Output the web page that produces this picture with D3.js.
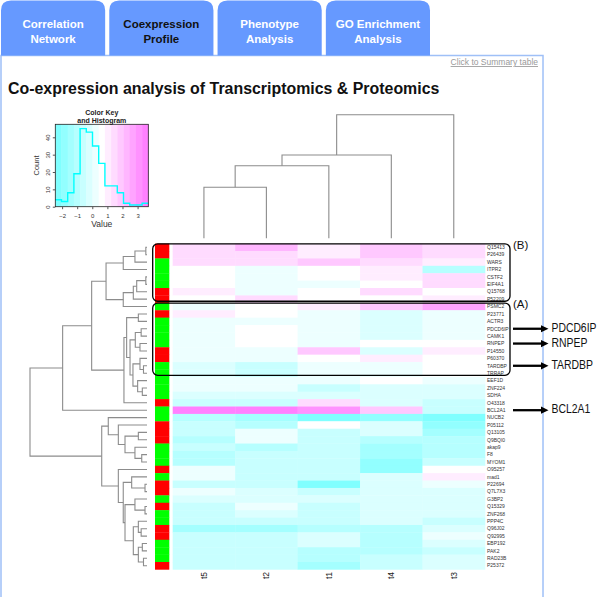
<!DOCTYPE html>
<html><head><meta charset="utf-8">
<script src="https://cdn.jsdelivr.net/npm/d3@7"></script>
<style>body{margin:0;background:#fff;} svg{display:block;font-family:"Liberation Sans",Arial,sans-serif;}</style>
</head><body>
<svg id="c" width="600" height="597"></svg>
<script>
// ---------------- data ----------------
const tabs = [["Correlation","Network"],["Coexpression","Profile"],["Phenotype","Analysis"],["GO Enrichment","Analysis"]];
const activeTab = 1;
const title = "Co-expression analysis of Transcriptomics & Proteomics";
const linkText = "Click to Summary table";
const columns = ["t5","t2","t1","t4","t3"];
const genes = ["Q15413","P26439","WARS","ITPR2","CSTF2","EIF4A1","Q15768","P52209","PSMC2","P23771",
  "ACTR3","PDCD6IP","CAMK1","RNPEP","P14550","P60370","TARDBP","TRRAP","EEF1D","ZNF224",
  "SDHA","O43318","BCL2A1","NUCB2","P05112","Q13105","Q9BQI0","akap9","F8","MYOM1",
  "O95257","mad1","P22694","Q7L7X3","G3BP2","Q15329","ZNF268","PPP4C","Q96J02","Q92995",
  "EBP192","PAK2","RAD23B","P25372"];
// side colour class: R = red, G = green
const sideClass = ["R","R","G","G","G","G","R","R","G","R",
  "G","G","G","G","R","R","G","G","G","G",
  "G","R","G","G","R","R","R","G","G","G",
  "R","G","R","R","G","R","G","G","R","R",
  "G","G","G","R"];
const valT5 = [1.5,1.5,1.5,0.6,0.6,0.6,1.0,0.6,0.2,1.0, 0.2,0.2,0.2,0.2,0.2,0.2,-0.2,-0.2,0.2,0.2, -0.2,-0.6,3.5,-1.0,-0.6,-0.6,-1.0,-0.6,-1.0,-1.0, 0.2,0.2,-0.6,0.2,-0.2,-0.6,-0.6,-0.6,-1.4,-0.6, -0.6,-0.6,-0.6,-0.6];
const valT2 = [2.3,1.5,1.5,0.2,0.2,0.2,0.2,1.5,0.6,0.6, 0.2,0.6,0.6,0.6,0.2,0.2,-0.6,-0.6,0.2,0.2, -0.2,-0.6,3.5,-1.4,-1.0,0.2,0.2,-1.0,-0.6,-0.6, -0.6,-0.6,-0.6,-0.2,-0.2,0.2,-0.2,-0.6,-1.4,-0.6, -0.6,-0.6,-0.6,-0.6];
const valT1 = [1.0,1.0,1.9,0.6,0.6,0.2,0.6,0.6,1.0,0.2, 0.2,0.2,0.2,0.2,1.9,0.6,0.2,0.2,0.2,-0.6, -0.2,1.5,3.1,-2.2,0.6,-0.6,-0.6,-0.6,-0.6,-0.6, -0.6,-0.6,-2.2,-0.6,-0.2,-0.6,-0.6,-0.6,-1.0,-0.2, -0.2,-1.0,-1.0,-1.4];
const valT4 = [1.9,1.9,1.5,1.0,1.0,0.6,1.5,0.6,1.9,-0.2, -0.2,-0.2,-0.2,0.6,-0.2,1.0,0.2,0.2,0.6,-0.2, -0.2,-0.2,1.9,-1.8,-0.2,-0.2,-1.0,-1.4,-1.4,-1.8, -1.8,-0.2,-0.2,-0.2,-0.2,-0.2,-0.2,-0.2,-1.0,-1.0, -1.0,-1.0,-0.6,-0.6];
const valT3 = [1.5,1.5,1.0,-1.0,1.5,1.5,0.6,1.0,2.7,0.2, 0.2,0.2,0.2,0.6,1.0,0.6,0.6,0.6,0.2,-0.2, -0.2,-0.6,-0.6,-2.2,-1.8,-1.4,-1.0,-1.0,-1.0,-0.6, 0.6,1.0,0.2,-0.2,-0.2,-0.2,-0.2,-0.6,-0.2,0.2, -0.2,-0.6,-0.2,-0.2];
const valueRange = [-2.45, 3.71];
const histCounts = [4,3,8,19,45,43,35,25,12,12,8,2,1,1,2];
const keyTicks = [-2,-1,0,1,2,3];
const countTicks = [0,10,20,30,40];
// column dendrogram: [height, left, right]
const colTree = [10, [6.74, [5.87, [4.13, "t5", "t2"], "t1"], "t4"], "t3"];
// row dendrogram: [height, left, right], leaves are row indices
const rowTree = [10,
  [7.21,
    [4.73,
      [3.50,
        [2.03, [1.03, [0.1, 0, 1], 2], 3],
        [2.03, [1.17, [0.88, [0.1, 4, 5], 6], 7], 8]],
      [1.97,
        [1.74,
          [0.74, 9, 10],
          [1.45, [1.0, [0.5, 11, 12], [0.6, 13, 14]],
                 [1.2, [0.6, 15, [0.3, 16, 17]], [0.8, 18, [0.4, 19, 20]]]]],
        21]],
    22],
  [3.87,
    [3.31, 23, [2.45, 24, [1.88, [0.74, 25, 26], [1.03, 27, [0.45, 28, 29]]]]],
    [2.45, 30,
      [2.03, [1.31, 31, [0.17, 32, 33]],
             [1.88, [1.03, 34, [0.17, 35, 36]],
                    [1.17, [0.74, 37, [0.5, 38, 39]], [0.74, [0.4, 40, 41], [0.3, 42, 43]]]]]]]];
const boxes = [{label:"(B)", from:0, to:7}, {label:"(A)", from:8, to:17}];
const callouts = ["PDCD6IP","RNPEP","TARDBP","BCL2A1"];

// ---------------- drawing ----------------
const svg = d3.select("#c");
const tabBlue = "#6699ff", borderBlue = "#9fc0f7";

// panel
svg.append("rect").attr("x",1).attr("y",55.5).attr("width",542).attr("height",560)
  .attr("fill","#fff").attr("stroke",borderBlue).attr("stroke-width",1.5);
// tabs
const tabX = d3.scaleBand().domain(d3.range(tabs.length)).range([1,430]).paddingInner(0.038);
tabs.forEach((t,i)=>{
  const x0 = tabX(i), w = tabX.bandwidth(), r = 10, y0 = 0.5, y1 = 55.5;
  svg.append("path").attr("d",`M${x0},${y1}V${y0+r}Q${x0},${y0} ${x0+r},${y0}H${x0+w-r}Q${x0+w},${y0} ${x0+w},${y0+r}V${y1}Z`)
    .attr("fill",tabBlue);
  const tx = svg.append("text").attr("x",x0+w/2).attr("text-anchor","middle")
    .attr("font-size",11.5).attr("font-weight","bold").attr("fill", i===activeTab?"#111":"#fff");
  t.forEach((s,j)=>tx.append("tspan").attr("x",x0+w/2).attr("y",28+j*14.5).text(s));
});
// link
svg.append("text").attr("x",538).attr("y",65).attr("text-anchor","end").attr("font-size",8.5)
  .attr("fill","#999").attr("text-decoration","underline").text(linkText);
// title
const tt = svg.append("text").attr("x",8).attr("y",94).attr("font-size",17).attr("font-weight","bold").attr("fill","#111").text(title);
const tw = tt.node().getComputedTextLength();
tt.attr("font-size", 17*432/tw);

// colour palette (R cm.colors)
function cmColors(n){
  const even = n%2===0, k = Math.floor(n/2), l1 = k+1-(even?1:0), l2 = n-k+(even?1:0);
  const out=[];
  const s1 = d3.range(l1).map(i=> 0.5 + (( (even?0.5/k:0) - 0.5) * (l1>1? i/(l1-1):0)));
  s1.forEach(s=>out.push(d3.rgb(255*(1-s),255,255).formatHex()));
  const s2 = d3.range(l2).map(i=> 0.5*(l2>1? i/(l2-1):0)).slice(1);
  s2.forEach(s=>out.push(d3.rgb(255,255*(1-s),255).formatHex()));
  return out;
}
const palette = cmColors(histCounts.length);
const color = d3.scaleQuantize().domain(valueRange).range(palette);

// heatmap
const xCol = d3.scaleBand().domain(columns).range([172.7,485]);
const yRow = d3.scaleBand().domain(d3.range(genes.length)).range([243.6,569.4]);
const colVals = {t5:valT5,t2:valT2,t1:valT1,t4:valT4,t3:valT3};
const cells = [];
columns.forEach(c=>colVals[c].forEach((v,i)=>cells.push({c,i,v})));
svg.append("g").selectAll("rect").data(cells).join("rect")
  .attr("x",d=>xCol(d.c)).attr("y",d=>yRow(d.i)).attr("width",xCol.bandwidth()+0.3).attr("height",yRow.bandwidth()+0.3)
  .attr("fill",d=>color(d.v));
// side colours
svg.append("g").selectAll("rect").data(sideClass).join("rect")
  .attr("x",155).attr("y",(d,i)=>yRow(i)).attr("width",14.3).attr("height",yRow.bandwidth()+0.3)
  .attr("fill",d=>d==="R"?"#ff0000":"#00ff00");
// row labels
svg.append("g").selectAll("text").data(genes).join("text")
  .attr("x",487).attr("y",(d,i)=>yRow(i)+yRow.bandwidth()/2).attr("dy","0.35em")
  .attr("font-size",5).attr("fill","#333").text(d=>d);
// column labels
svg.append("g").selectAll("text").data(columns).join("text")
  .attr("transform",d=>`translate(${xCol(d)+xCol.bandwidth()/2+3},572) rotate(-90)`)
  .attr("text-anchor","end").attr("font-size",8.5).attr("fill","#222").text(d=>d);

// column dendrogram
const colH = d3.scaleLinear().domain([0,10]).range([238.3,114.7]);
const dg = svg.append("g").attr("stroke","#8c8c8c").attr("stroke-width",1.1).attr("fill","none");
function drawCol(node){
  if(!Array.isArray(node)) return {x:xCol(node)+xCol.bandwidth()/2, h:0};
  const a = drawCol(node[1]), b = drawCol(node[2]), y = colH(node[0]);
  dg.append("path").attr("d",`M${a.x},${colH(a.h)}V${y}H${b.x}V${colH(b.h)}`);
  return {x:(a.x+b.x)/2, h:node[0]};
}
drawCol(colTree);
// row dendrogram
const rowH = d3.scaleLinear().domain([0,10]).range([147,30]);
function drawRow(node){
  if(!Array.isArray(node)) return {y:yRow(node)+yRow.bandwidth()/2, h:0};
  const a = drawRow(node[1]), b = drawRow(node[2]), x = rowH(node[0]);
  dg.append("path").attr("d",`M${rowH(a.h)},${a.y}H${x}V${b.y}H${rowH(b.h)}`);
  return {y:(a.y+b.y)/2, h:node[0]};
}
drawRow(rowTree);

// boxes
boxes.forEach(b=>{
  const y0 = yRow(b.from)+0.2, y1 = yRow(b.to)+yRow.bandwidth()-1.6;
  svg.append("rect").attr("x",152.7).attr("y",y0).attr("width",510-152.7).attr("height",y1-y0)
    .attr("rx",5).attr("fill","none").attr("stroke","#000").attr("stroke-width",1.3);
  svg.append("text").attr("x",513).attr("y",y0+1).attr("dy","0.35em").attr("font-size",11.5).attr("fill","#111").text(b.label);
});
// callouts
callouts.forEach(g=>{
  const i = genes.indexOf(g), y = yRow(i)+yRow.bandwidth()/2;
  svg.append("line").attr("x1",513).attr("x2",542).attr("y1",y).attr("y2",y).attr("stroke","#000").attr("stroke-width",2.3);
  svg.append("path").attr("d",`M541,${y-3.6}L548.5,${y}L541,${y+3.6}Z`).attr("fill","#000");
  const t = svg.append("text").attr("x",0).attr("y",0).attr("dy","0.35em").attr("font-size",12).attr("fill","#111").text(g);
  const w = t.node().getComputedTextLength();
  const sx = Math.min(1, 45/ (g==="PDCD6IP"? w : 45/0.87));
  t.attr("transform",`translate(551.5,${y-1}) scale(${g==="PDCD6IP"?sx:0.87},1)`);
});

// colour key
const kx = d3.scaleLinear().domain(valueRange).range([55.3,148.3]);
const ky = d3.scaleLinear().domain([0,47.5]).range([206.7,124.3]);
const binW = (valueRange[1]-valueRange[0])/histCounts.length;
const key = svg.append("g");
key.selectAll("rect").data(palette).join("rect")
  .attr("x",(d,i)=>kx(valueRange[0]+i*binW)).attr("y",124.3)
  .attr("width",(kx(valueRange[0]+binW)-kx(valueRange[0]))+0.3).attr("height",206.7-124.3).attr("fill",d=>d);
const steps = [];
histCounts.forEach((c,i)=>{steps.push([kx(valueRange[0]+i*binW),ky(c)]);steps.push([kx(valueRange[0]+(i+1)*binW),ky(c)]);});
key.append("path").attr("d",d3.line()(steps)).attr("fill","none").attr("stroke","#00ffff").attr("stroke-width",1.4);
key.append("rect").attr("x",55.3).attr("y",124.3).attr("width",93).attr("height",82.4).attr("fill","none").attr("stroke","#222").attr("stroke-width",0.8);
const kxa = key.append("g").attr("transform","translate(0,206.7)").call(d3.axisBottom(kx).tickValues(keyTicks).tickSize(2.5).tickFormat(d3.format("d")));
kxa.select(".domain").remove();
kxa.selectAll("text").attr("font-size",6).attr("fill","#333").attr("dy","0.9em").attr("font-family","Liberation Sans, Arial");
kxa.selectAll("line").attr("stroke","#555");
const kya = key.append("g").attr("transform","translate(55.3,0)").call(d3.axisLeft(ky).tickValues(countTicks).tickSize(2.5));
kya.select(".domain").remove();
kya.selectAll("line").attr("stroke","#555");
kya.selectAll("text").attr("font-size",6).attr("fill","#333").attr("text-anchor","middle")
  .attr("x",0).attr("dy",0).attr("transform","translate(-5,0) rotate(-90)").attr("font-family","Liberation Sans, Arial");
key.append("text").attr("transform","translate(38.5,165.5) rotate(-90)").attr("text-anchor","middle").attr("font-size",7.5).attr("fill","#333").text("Count");
key.append("text").attr("x",101.8).attr("y",227.3).attr("text-anchor","middle").attr("font-size",8.5).attr("fill","#333").text("Value");
key.append("text").attr("x",101.8).attr("y",114.8).attr("text-anchor","middle").attr("font-size",7).attr("font-weight","bold").attr("fill","#222").text("Color Key");
key.append("text").attr("x",101.8).attr("y",123.2).attr("text-anchor","middle").attr("font-size",7).attr("font-weight","bold").attr("fill","#222").text("and Histogram");
</script>
</body></html>
